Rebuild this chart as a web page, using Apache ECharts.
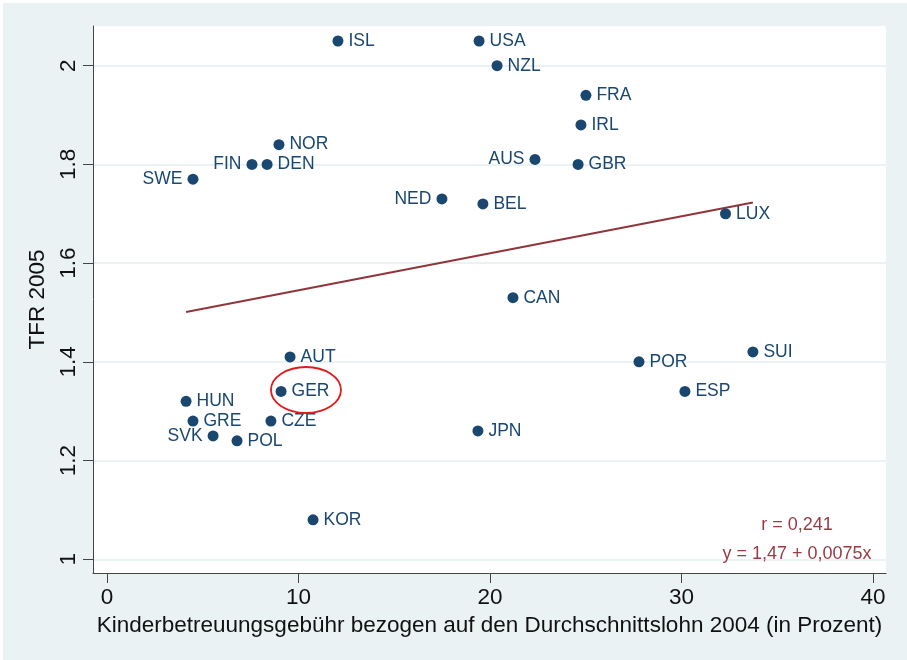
<!DOCTYPE html>
<html><head><meta charset="utf-8">
<script src="https://cdn.jsdelivr.net/npm/echarts@6/dist/echarts.min.js"></script>
<style>
html,body{margin:0;padding:0;background:#fff;}
#c{position:absolute;left:3px;top:3px;width:904px;height:657px;}
</style></head>
<body><div id="c"></div>
<script>
// Data
const countries = ['ISL','USA','NZL','FRA','IRL','AUS','GBR','NOR','FIN','DEN','SWE','NED','BEL','LUX','CAN','AUT','SUI','POR','ESP','GER','HUN','GRE','CZE','SVK','POL','JPN','KOR'];
const childcareFee = [12.06,19.43,20.37,25.01,24.75,22.35,24.6,8.98,7.57,8.36,4.49,17.49,19.63,32.3,21.2,9.56,33.73,27.78,30.18,9.09,4.13,4.49,8.56,5.54,6.79,19.37,10.76];
const tfr2005 = [2.05,2.05,2.0,1.94,1.88,1.81,1.80,1.84,1.80,1.80,1.77,1.73,1.72,1.70,1.53,1.41,1.42,1.40,1.34,1.34,1.32,1.28,1.28,1.25,1.24,1.26,1.08];
const yTicks = [1, 1.2, 1.4, 1.6, 1.8, 2];
const xTicks = [0, 10, 20, 30, 40];
const fitIntercept = 1.47;
const fitSlope = 0.0075;
const annotR = 'r = 0,241';
const annotEq = 'y = 1,47 + 0,0075x';
const leftLabeled = ['SWE','FIN','NED','AUS','SVK'];
const highlight = {x: 10.39, y: 1.343};

const navy = '#1A476F';
const maroon = '#90353B';
const bg = '#EAF2F3';
const font = 'Liberation Sans, Arial, sans-serif';

const points = countries.map((c, i) => ({
  name: c,
  value: [childcareFee[i], tfr2005[i]],
  label: {position: leftLabeled.includes(c) ? 'left' : 'right'}
}));
const xMin = Math.min(...childcareFee), xMax = Math.max(...childcareFee);
const fitData = [[xMin, fitIntercept + fitSlope * xMin], [xMax, fitIntercept + fitSlope * xMax]];

const chart = echarts.init(document.getElementById('c'));
chart.setOption({
  animation: false,
  backgroundColor: bg,
  grid: {left: 90, right: 21, top: 23, bottom: 87, show: true, backgroundColor: '#fff', borderWidth: 0},
  xAxis: {
    type: 'value', min: -0.731, max: 40.68,
    axisLine: {show: true, onZero: false, lineStyle: {color: '#444', width: 1}},
    axisTick: {show: true, length: 10, customValues: xTicks, lineStyle: {color: '#444'}},
    axisLabel: {customValues: xTicks, color: '#111', fontSize: 22.5, fontFamily: font, margin: 13},
    splitLine: {show: false},
    name: 'Kinderbetreuungsgebühr bezogen auf den Durchschnittslohn 2004 (in Prozent)',
    nameLocation: 'middle', nameGap: 41,
    nameTextStyle: {color: '#111', fontSize: 22.5, fontFamily: font}
  },
  yAxis: {
    type: 'value', min: 0.9722, max: 2.0804,
    axisLine: {show: true, onZero: false, lineStyle: {color: '#444', width: 1}},
    axisTick: {show: true, length: 10, customValues: yTicks, lineStyle: {color: '#444'}},
    axisLabel: {customValues: yTicks, rotate: 90, color: '#111', fontSize: 22.5, fontFamily: font, margin: 13,
      formatter: v => String(v)},
    splitLine: {show: false},
    name: 'TFR 2005', nameLocation: 'middle', nameGap: 42, nameRotate: 90,
    nameTextStyle: {color: '#111', fontSize: 22.5, fontFamily: font}
  },
  series: [
    {
      type: 'line', data: [], silent: true, z: 0, zlevel: 0,
      markLine: {
        silent: true, symbol: 'none', label: {show: false}, z: 0,
        lineStyle: {color: bg, type: 'solid', width: 2},
        data: yTicks.map(v => ({yAxis: v}))
      }
    },
    {
      type: 'line', data: fitData, showSymbol: false, silent: true, z: 3,
      lineStyle: {color: maroon, width: 2}
    },
    {
      type: 'scatter', data: points, symbolSize: 11, z: 4,
      itemStyle: {color: navy, opacity: 1},
      label: {show: true, formatter: p => p.name, color: navy, fontSize: 17.5, fontFamily: font, distance: 5}
    }
  ]
});

const c = chart.convertToPixel({gridIndex: 0}, [highlight.x, highlight.y]);
const lx = chart.convertToPixel({gridIndex: 0}, [36.03, 1.0695]);
const ly = chart.convertToPixel({gridIndex: 0}, [36.03, 1.0107]);
chart.setOption({
  graphic: [
    {type: 'ellipse', shape: {cx: c[0], cy: c[1], rx: 35, ry: 23}, style: {fill: null, stroke: '#E3191C', lineWidth: 1.8}, z: 100},
    {type: 'text', x: lx[0], y: lx[1], style: {text: annotR, fill: '#9A3A45', font: '18px ' + font, textAlign: 'center', textVerticalAlign: 'middle'}, z: 100},
    {type: 'text', x: ly[0], y: ly[1], style: {text: annotEq, fill: '#9A3A45', font: '18px ' + font, textAlign: 'center', textVerticalAlign: 'middle'}, z: 100}
  ]
});
</script></body></html>
